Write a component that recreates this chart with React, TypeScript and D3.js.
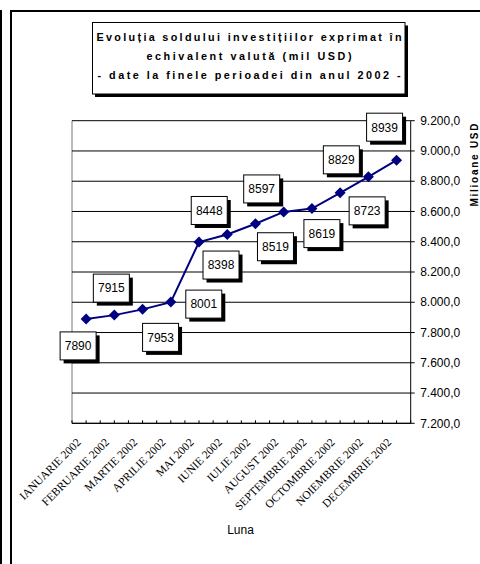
import React from "react";
import * as d3 from "d3";

const months = [
  "IANUARIE 2002", "FEBRUARIE 2002", "MARTIE 2002", "APRILIE 2002", "MAI 2002", "IUNIE 2002",
  "IULIE 2002", "AUGUST 2002", "SEPTEMBRIE 2002", "OCTOMBRIE 2002", "NOIEMBRIE 2002", "DECEMBRIE 2002",
];
const values = [7890, 7915, 7953, 8001, 8398, 8448, 8519, 8597, 8619, 8723, 8829, 8939];
const yTicks = [7200, 7400, 7600, 7800, 8000, 8200, 8400, 8600, 8800, 9000, 9200];
const titleLines = [
  "Evoluția soldului investițiilor exprimat în",
  "echivalent valută (mil USD)",
  "- date la finele perioadei din anul 2002 -",
];
const yAxisTitle = "Milioane USD";
const xAxisTitle = "Luna";

// layout: label box offsets relative to each point (manually placed in original)
const labelOffsets: [number, number][] = [
  [-8, 27], [-3, -27], [18, 28], [33, 2], [22, 23], [-18, -24],
  [20, 23], [-22, -23], [10, 25], [27, 18], [-27, -17], [-12, -33],
];

const W = 480;
const H = 564;
const SANS = "'Liberation Sans', Arial, sans-serif";
const SERIF = "'Liberation Serif', 'Times New Roman', serif";

const loc = d3.formatLocale({ decimal: ",", thousands: ".", grouping: [3], currency: ["", ""] });
const fmt = loc.format(",.1f");

export default function App() {
  const left = 72;
  const right = 410.7;
  const top = 120.7;
  const bottom = 423.3;

  const x = d3.scaleBand<string>().domain(months).range([left, right]).padding(0);
  const y = d3.scaleLinear().domain([7200, 9200]).range([bottom, top]);
  const cx = (i: number) => (x(months[i]) as number) + x.bandwidth() / 2;

  const line = d3
    .line<number>()
    .x((_, i) => cx(i))
    .y((d) => y(d));

  const halfTicks: number[] = [];
  for (let i = 0; i <= months.length * 2; i++) halfTicks.push(left + (i * x.bandwidth()) / 2);

  const r = 5.5;
  const diamond = `M0,${-r}L${r},0L0,${r}L${-r},0Z`;
  const bw = 36;
  const bh = 28;

  return (
    <svg
      width={W}
      height={H}
      style={{ position: "absolute", left: 0, top: 0, display: "block", background: "#fff" }}
    >
      <rect x={0} y={0} width={W} height={H} fill="#fff" />
      {/* left bar */}
      <rect x={0} y={10} width={2} height={H - 10} fill="#000" />
      {/* inner frame */}
      <rect x={11} y={11} width={W + 20} height={H + 20} fill="none" stroke="#000" strokeWidth={2} />

      {/* title box */}
      <rect x={95} y={25.5} width={313} height={71.5} fill="#000" />
      <rect x={92.5} y={22.5} width={312.5} height={71.5} fill="#fff" stroke="#000" strokeWidth={1} />
      {titleLines.map((t, i) => (
        <text
          key={i}
          x={249}
          y={40.5 + i * 19}
          textAnchor="middle"
          fontFamily={SANS}
          fontWeight="bold"
          fontSize={10.8}
          textLength={[305, 205, 303][i]}
          lengthAdjust="spacing"
        >
          {t}
        </text>
      ))}

      {/* plot area left border */}
      <line x1={left} x2={left} y1={top} y2={bottom} stroke="#777" strokeWidth={1} />
      {/* gridlines */}
      {yTicks.map((t) => (
        <line key={t} x1={left} x2={right} y1={y(t)} y2={y(t)} stroke="#000" strokeWidth={1} />
      ))}
      {/* right axis */}
      <line x1={right} x2={right} y1={top} y2={bottom} stroke="#000" strokeWidth={1} />
      {yTicks.map((t) => (
        <g key={"yt" + t}>
          <line x1={right} x2={right + 4} y1={y(t)} y2={y(t)} stroke="#000" />
          <text x={right + 9.5} y={y(t)} dy="0.35em" fontFamily={SANS} fontSize={12}>
            {fmt(t)}
          </text>
        </g>
      ))}
      <text
        transform={`translate(478,165) rotate(-90)`}
        textAnchor="middle"
        fontFamily={SANS}
        fontWeight="bold"
        fontSize={10}
        textLength={83}
        lengthAdjust="spacing"
      >
        {yAxisTitle}
      </text>

      {/* bottom axis */}
      <line x1={left} x2={right} y1={bottom} y2={bottom} stroke="#000" strokeWidth={1} />
      {halfTicks.map((tx, i) => (
        <line key={"xt" + i} x1={tx} x2={tx} y1={bottom - 3} y2={bottom} stroke="#000" />
      ))}
      {months.map((m, i) => (
        <text
          key={m}
          transform={`translate(${cx(i) - 4.5},443) rotate(-45)`}
          textAnchor="end"
          fontFamily={SERIF}
          fontSize={11.5}
        >
          {m}
        </text>
      ))}
      <text x={240.5} y={534} textAnchor="middle" fontFamily={SANS} fontSize={12}>
        {xAxisTitle}
      </text>

      {/* series */}
      <path d={line(values) || ""} fill="none" stroke="#000080" strokeWidth={2} />
      {values.map((v, i) => (
        <path key={"m" + i} d={diamond} transform={`translate(${cx(i)},${y(v)})`} fill="#000080" />
      ))}

      {/* data labels */}
      {values.map((v, i) => {
        const lx = cx(i) + labelOffsets[i][0];
        const ly = y(v) + labelOffsets[i][1];
        return (
          <g key={"l" + i}>
            <rect x={lx - bw / 2 + 3.5} y={ly - bh / 2 + 3.5} width={bw} height={bh} fill="#000" />
            <rect x={lx - bw / 2} y={ly - bh / 2} width={bw} height={bh} fill="#fff" stroke="#000" strokeWidth={1} />
            <text x={lx} y={ly} dy="0.36em" textAnchor="middle" fontFamily={SANS} fontSize={12}>
              {v}
            </text>
          </g>
        );
      })}
    </svg>
  );
}
